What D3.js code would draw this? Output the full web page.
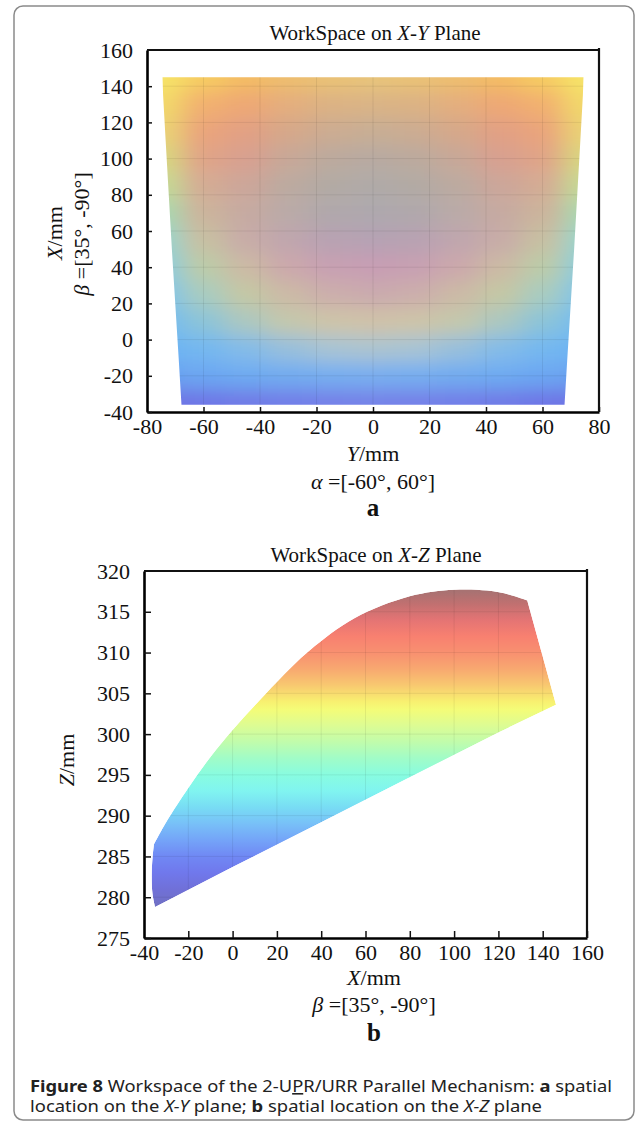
<!DOCTYPE html>
<html lang="en">
<head>
<meta charset="UTF-8">
<title>Workspace of the 2-UPR/URR Parallel Mechanism</title>
<style>
  body { margin: 0; background: #fff; }
  svg text { font-family: "Liberation Serif", "Times New Roman", serif; fill: #111; }
  .tick line { stroke: #111; stroke-width: 1.5; }
  .tick text { font-size: 22px; }
  .caption { font-family: "Noto Sans", "Open Sans", sans-serif !important; font-size: 16px; fill: #222; }
</style>
</head>
<body>
<script src="https://d3js.org/d3.v7.min.js"></script>
<script>

// ---------- (a) workspace on the X-Y plane ----------
var ticksYA = [-80, -60, -40, -20, 0, 20, 40, 60, 80];        // horizontal axis, Y/mm
var ticksXA = [-40, -20, 0, 20, 40, 60, 80, 100, 120, 140, 160]; // vertical axis, X/mm

// outline of the reachable region, [Y, X]
var outlineA = [[-74.5, 145], [74.5, 145], [74.3, 135], [73.4, 110], [72.3, 80], [71.2, 50], [70, 20],
                [68.8, -10], [67.8, -36], [-67.8, -36], [-68.8, -10], [-70, 20], [-71.2, 50],
                [-72.3, 80], [-73.4, 110], [-74.3, 135]];

// colour samples of the shaded surface: rows are X values, columns are Y values
var colsYA = [-75, -60, -45, -30, -15, 0, 15, 30, 45, 60, 75];
var rowsXA = [145, 130, 115, 100, 85, 70, 55, 40, 25, 10, -5, -20, -35];
var colorsA = [
  ["#f6e468","#f6cc62","#f4bc64","#eebe6e","#eac276","#e8c47a","#eac276","#eebe6e","#f4bc64","#f6cc62","#f6e468"],
  ["#f2d86a","#f2b070","#eea874","#e4ae7e","#dcb284","#dab486","#dcb284","#e4ae7e","#eea874","#f2b070","#f2d86a"],
  ["#ead274","#eaa47c","#e2a084","#d6a88a","#ccac92","#c8ae94","#ccac92","#d6a88a","#e2a084","#eaa47c","#ead274"],
  ["#d8d680","#e0a488","#d8a090","#c8a898","#bcaa9e","#b8aaa2","#bcaa9e","#c8a898","#d8a090","#e0a488","#d8d680"],
  ["#c4da94","#d4ac94","#cca69a","#bcaaa0","#b2aaa4","#b0aaa8","#b2aaa4","#bcaaa0","#cca69a","#d4ac94","#c4da94"],
  ["#a8d8b0","#ccb49c","#c6aaa2","#baaaa8","#b0a8ac","#aea8ae","#b0a8ac","#baaaa8","#c6aaa2","#ccb49c","#a8d8b0"],
  ["#98d4cc","#c8c0a2","#c8aca8","#c0a6ae","#b8a2b2","#b6a2b4","#b8a2b2","#c0a6ae","#c8aca8","#c8c0a2","#98d4cc"],
  ["#8cccdc","#bccca8","#ccbaa4","#cca8ac","#c8a0b2","#c89eb4","#c8a0b2","#cca8ac","#ccbaa4","#bccca8","#8cccdc"],
  ["#80c4e8","#a8ccc0","#c4c8a4","#ccbaa6","#ccaeac","#caaaae","#ccaeac","#ccbaa6","#c4c8a4","#a8ccc0","#80c4e8"],
  ["#74bcf0","#8cc4d8","#acc8c0","#c4c8ac","#cec4a8","#d0c2a8","#cec4a8","#c4c8ac","#acc8c0","#8cc4d8","#74bcf0"],
  ["#6cb4f4","#74b8f0","#84bce8","#98c0dc","#a8c4d4","#acc4d0","#a8c4d4","#98c0dc","#84bce8","#74b8f0","#6cb4f4"],
  ["#6aa0f0","#6ca6f2","#6eaaf2","#72acf0","#76aef0","#78aef0","#76aef0","#72acf0","#6eaaf2","#6ca6f2","#6aa0f0"],
  ["#6e72e4","#6e76e6","#707ae6","#727ee8","#7480e8","#7482e8","#7480e8","#727ee8","#707ae6","#6e76e6","#6e72e4"]
];

// ---------- (b) workspace on the X-Z plane ----------
var ticksXB = [-40, -20, 0, 20, 40, 60, 80, 100, 120, 140, 160];
var ticksZB = [275, 280, 285, 290, 295, 300, 305, 310, 315, 320];

// outline, [X, Z]: curved upper boundary, straight lower boundary, short left side
var upperB = [[-35.5, 286.5], [-30, 289.2], [-20, 293.4], [-10, 297.2], [0, 300.5], [10, 303.5],
              [20, 306.4], [35, 310.3], [55, 314.2], [80, 316.9], [100, 317.7], [115, 317.6],
              [125, 317.1], [133, 316.4]];
var lowerB = [[146, 303.6], [120, 300.2], [80, 294.7], [40, 289.2], [0, 283.7], [-35, 278.8]];
var leftB  = [[-35, 278.8], [-36.2, 280.5], [-36.5, 283], [-36.1, 285], [-35.5, 286.5]];

// colour by height Z
var zStops  = [317.5, 316, 314, 312, 310, 308, 306, 304, 303, 301, 299, 297, 295, 293, 291, 289, 287, 285, 283, 281, 279];
var zColors = ["#a87272","#c07070","#e47474","#f88070","#f89070","#f8a870","#f8c870","#f8f070","#f4fc78","#dcfc94",
               "#c0fcac","#a0fcc8","#88fce0","#80f4f0","#78dcf4","#78c0f8","#74a4f8","#7088f4","#7078ec","#7070d8","#7070c4"];

// ---------- drawing ----------
var svg = d3.select("body").append("svg")
    .attr("width", 637)
    .attr("height", 1123);
var defs = svg.append("defs");

svg.append("rect")
    .attr("x", 14).attr("y", 6)
    .attr("width", 620).attr("height", 1114)
    .attr("rx", 9)
    .attr("fill", "none")
    .attr("stroke", "#8a8a8a")
    .attr("stroke-width", 1.5);

function cellEdges(c, pad) {
  var d = Math.sign(c[1] - c[0]);
  var e = [c[0] - d * pad];
  for (var i = 1; i < c.length; i++) e.push((c[i - 1] + c[i]) / 2);
  e.push(c[c.length - 1] + d * pad);
  return e;
}

function axisText(d) { return String(d); }

function drawFrame(x, y, xt, yt, tick) {
  var g = svg.append("g");
  var x0 = x.range()[0], x1 = x.range()[1], y0 = y.range()[0], y1 = y.range()[1];

  g.append("g")
      .attr("transform", "translate(0," + y0 + ")")
      .call(d3.axisBottom(x).tickValues(xt).tickFormat(axisText)
            .tickSizeInner(-tick).tickSizeOuter(0).tickPadding(5))
      .call(function(a) { a.select(".domain").attr("stroke-width", 2.6); a.selectAll("text").attr("dy", "0.76em"); });

  g.append("g")
      .attr("transform", "translate(" + x0 + ",0)")
      .call(d3.axisLeft(y).tickValues(yt).tickFormat(axisText)
            .tickSizeInner(-tick).tickSizeOuter(0).tickPadding(14))
      .call(function(a) { a.select(".domain").attr("stroke-width", 2.6); });

  // no tick marks at the corners
  g.selectAll(".tick").filter(function(d, i, n) { return i === 0 || i === n.length - 1; })
      .select("line").remove();

  g.append("line").attr("x1", x0).attr("x2", x1).attr("y1", y1).attr("y2", y1)
      .attr("stroke", "#111").attr("stroke-width", 2.2);
  g.append("line").attr("x1", x1).attr("x2", x1).attr("y1", y1 - 2).attr("y2", y0)
      .attr("stroke", "#111").attr("stroke-width", 2.2);
  g.selectAll("text").attr("font-family", null).attr("font-size", null).attr("fill", "#111");
  return g;
}

function gridLines(g, x, y, xt, yt) {
  g.selectAll(null).data(xt).enter().append("line")
      .attr("x1", function(d) { return x(d); }).attr("x2", function(d) { return x(d); })
      .attr("y1", y.range()[0]).attr("y2", y.range()[1])
      .attr("stroke", "#000").attr("stroke-opacity", 0.07);
  g.selectAll(null).data(yt).enter().append("line")
      .attr("y1", function(d) { return y(d); }).attr("y2", function(d) { return y(d); })
      .attr("x1", x.range()[0]).attr("x2", x.range()[1])
      .attr("stroke", "#000").attr("stroke-opacity", 0.07);
}

// ----- plot a -----
var xA = d3.scaleLinear().domain([-80, 80]).range([147, 599]);
var yA = d3.scaleLinear().domain([-40, 160]).range([412, 50]);

var lineA = d3.line()
    .x(function(d) { return xA(d[0]); })
    .y(function(d) { return yA(d[1]); })
    .curve(d3.curveLinearClosed);

defs.append("clipPath").attr("id", "clipA")
    .append("path").attr("d", lineA(outlineA));
defs.append("filter").attr("id", "blurA")
    .attr("filterUnits", "userSpaceOnUse")
    .attr("x", 0).attr("y", 0).attr("width", 637).attr("height", 1123)
    .append("feGaussianBlur").attr("stdDeviation", "13 9");

var edgeY = cellEdges(colsYA, 20);
var edgeX = cellEdges(rowsXA, 20);

var clippedA = svg.append("g").attr("clip-path", "url(#clipA)");
var cellsA = clippedA.append("g").attr("filter", "url(#blurA)");
rowsXA.forEach(function(xv, i) {
  colsYA.forEach(function(yv, j) {
    cellsA.append("rect")
        .attr("x", xA(edgeY[j]))
        .attr("y", yA(edgeX[i]))
        .attr("width", xA(edgeY[j + 1]) - xA(edgeY[j]) + 0.5)
        .attr("height", yA(edgeX[i + 1]) - yA(edgeX[i]) + 0.5)
        .attr("fill", colorsA[i][j]);
  });
});
gridLines(clippedA, xA, yA, ticksYA, ticksXA);

drawFrame(xA, yA, ticksYA, ticksXA, 5);

svg.append("text").attr("x", 375).attr("y", 40).attr("text-anchor", "middle").attr("font-size", 21)
    .html('WorkSpace on <tspan font-style="italic">X</tspan>-<tspan font-style="italic">Y</tspan> Plane');
svg.append("text").attr("transform", "translate(54,233) rotate(-90)").attr("text-anchor", "middle")
    .attr("dy", "0.35em").attr("font-size", 22)
    .html('<tspan font-style="italic">X</tspan>/mm');
svg.append("text").attr("transform", "translate(81,234) rotate(-90)").attr("text-anchor", "middle")
    .attr("dy", "0.35em").attr("font-size", 22)
    .html('<tspan font-style="italic">β</tspan> =[35°, -90°]');
svg.append("text").attr("x", 373).attr("y", 461).attr("text-anchor", "middle").attr("font-size", 22)
    .html('<tspan font-style="italic">Y</tspan>/mm');
svg.append("text").attr("x", 373).attr("y", 489).attr("text-anchor", "middle").attr("font-size", 22)
    .html('<tspan font-style="italic">α</tspan> =[-60°, 60°]');
svg.append("text").attr("x", 373).attr("y", 516).attr("text-anchor", "middle")
    .attr("font-size", 25).attr("font-weight", "bold").text("a");

// ----- plot b -----
var xB = d3.scaleLinear().domain([-40, 160]).range([144, 587]);
var zB = d3.scaleLinear().domain([275, 320]).range([938, 571]);

var smoothB = d3.line()
    .x(function(d) { return xB(d[0]); })
    .y(function(d) { return zB(d[1]); })
    .curve(d3.curveCatmullRom.alpha(0.5));
var straightB = d3.line()
    .x(function(d) { return xB(d[0]); })
    .y(function(d) { return zB(d[1]); });
var pathB = smoothB(upperB) + straightB(lowerB).replace(/^M/, "L") +
            smoothB(leftB).replace(/^M/, "L") + "Z";

var gradB = defs.append("linearGradient").attr("id", "gradB")
    .attr("gradientUnits", "userSpaceOnUse")
    .attr("x1", 0).attr("x2", 0)
    .attr("y1", zB(zStops[0])).attr("y2", zB(zStops[zStops.length - 1]));
zStops.forEach(function(z, i) {
  gradB.append("stop")
      .attr("offset", (zB(z) - zB(zStops[0])) / (zB(zStops[zStops.length - 1]) - zB(zStops[0])))
      .attr("stop-color", zColors[i]);
});

defs.append("clipPath").attr("id", "clipB")
    .append("path").attr("d", pathB);

var clippedB = svg.append("g").attr("clip-path", "url(#clipB)");
clippedB.append("path")
    .attr("d", pathB)
    .attr("fill", "url(#gradB)");
gridLines(clippedB, xB, zB, ticksXB, ticksZB);

drawFrame(xB, zB, ticksXB, ticksZB, 7);

svg.append("text").attr("x", 376).attr("y", 562).attr("text-anchor", "middle").attr("font-size", 21)
    .html('WorkSpace on <tspan font-style="italic">X</tspan>-<tspan font-style="italic">Z</tspan> Plane');
svg.append("text").attr("transform", "translate(66,760) rotate(-90)").attr("text-anchor", "middle")
    .attr("dy", "0.35em").attr("font-size", 22)
    .html('<tspan font-style="italic">Z</tspan>/mm');
svg.append("text").attr("x", 374).attr("y", 985).attr("text-anchor", "middle").attr("font-size", 22)
    .html('<tspan font-style="italic">X</tspan>/mm');
svg.append("text").attr("x", 374).attr("y", 1012).attr("text-anchor", "middle").attr("font-size", 22)
    .html('<tspan font-style="italic">β</tspan> =[35°, -90°]');
svg.append("text").attr("x", 374).attr("y", 1041).attr("text-anchor", "middle")
    .attr("font-size", 25).attr("font-weight", "bold").text("b");

// ----- caption -----
svg.append("text").attr("class", "caption").attr("x", 30).attr("y", 1092)
    .attr("textLength", 582).attr("lengthAdjust", "spacingAndGlyphs")
    .html('<tspan font-weight="bold">Figure 8</tspan>  Workspace of the 2-U<tspan text-decoration="underline">P</tspan>R/URR Parallel Mechanism: <tspan font-weight="bold">a</tspan> spatial');
svg.append("text").attr("class", "caption").attr("x", 30).attr("y", 1112)
    .attr("textLength", 512).attr("lengthAdjust", "spacingAndGlyphs")
    .html('location on the <tspan font-style="italic">X-Y</tspan> plane; <tspan font-weight="bold">b</tspan> spatial location on the <tspan font-style="italic">X-Z</tspan> plane');

</script>
</body>
</html>
